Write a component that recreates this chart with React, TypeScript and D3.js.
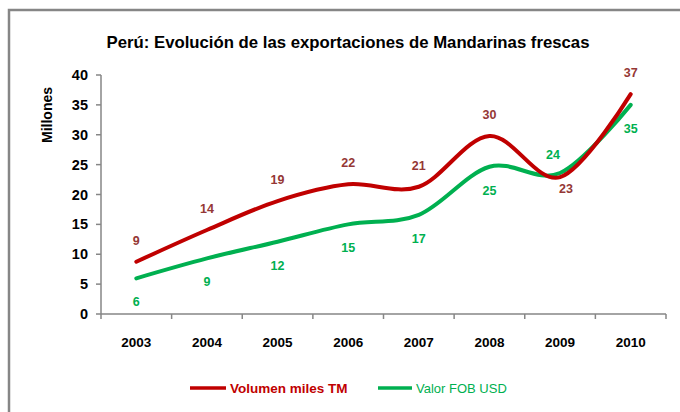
import { useMemo } from 'react'
import * as d3 from 'd3'

const width = 680
const height = 412

const years = ['2003', '2004', '2005', '2006', '2007', '2008', '2009', '2010']
const volumen = [8.75, 14.06, 18.9, 21.7, 21.3, 29.8, 22.9, 36.8]
const valorFob = [5.97, 9.3, 12.1, 15.0, 16.6, 24.65, 23.6, 35.0]
const yTicks = [0, 5, 10, 15, 20, 25, 30, 35, 40]

const titleText = 'Perú: Evolución de las exportaciones de Mandarinas frescas'
const yLabel = 'Millones'
const nameVolumen = 'Volumen miles TM'
const nameValor = 'Valor FOB USD'

const RED = '#C00000'
const RED_LABEL = '#953735'
const GREEN = '#00B050'
const AXIS = '#868686'
const FONT = '"Liberation Sans", Arial, sans-serif'

const x = d3.scaleBand<string>().domain(years).range([101, 666]).padding(0)
const y = d3.scaleLinear().domain([0, 40]).range([314, 75])
const cx = (yr: string) => (x(yr) ?? 0) + x.bandwidth() / 2

function App() {
  const line = useMemo(
    () =>
      d3
        .line<number>()
        .x((_, i) => cx(years[i]))
        .y(d => y(d))
        .curve(d3.curveCardinal.tension(0)),
    []
  )

  // higher series gets its label above, lower one below
  const labelPos = (i: number, mine: number[], other: number[]) => {
    const above = mine[i] >= other[i]
    const close = Math.abs(mine[i] - other[i]) < 1
    return {
      x: cx(years[i]) + (close ? (above ? -7 : 6) : 0),
      y: y(mine[i]) + (above ? (close ? -18 : -21) : close ? 12 : 24),
    }
  }

  return (
    <svg
      width={width}
      height={height}
      style={{ position: 'absolute', left: 0, top: 0, background: '#fff' }}
      fontFamily={FONT}
    >
      <rect x={0} y={0} width={width} height={height} fill="#fff" />
      {/* chart frame, runs off the right and bottom */}
      <path d="M9,420 L9,10 L690,10" fill="none" stroke={AXIS} strokeWidth={2.5} />

      <text x={348} y={42} textAnchor="middle" dominantBaseline="central" fontSize={16.5} fontWeight="bold" fill="#000" textLength={483} lengthAdjust="spacingAndGlyphs">
        {titleText}
      </text>

      <text transform={`translate(47,115) rotate(-90)`} textAnchor="middle" dominantBaseline="central" fontSize={14} fontWeight="bold" fill="#000">
        {yLabel}
      </text>

      {/* y axis */}
      <line x1={101} x2={101} y1={y(40)} y2={y(0)} stroke={AXIS} strokeWidth={1.5} />
      {yTicks.map(t => (
        <g key={t}>
          <line x1={96} x2={101} y1={y(t)} y2={y(t)} stroke={AXIS} strokeWidth={1.5} />
          <text x={88} y={y(t)} textAnchor="end" dominantBaseline="central" fontSize={14.5} fontWeight="bold" fill="#000">
            {t}
          </text>
        </g>
      ))}

      {/* x axis */}
      <line x1={101} x2={666} y1={y(0)} y2={y(0)} stroke={AXIS} strokeWidth={1.5} />
      {[...years.map(yr => x(yr) ?? 0), 666].map((p, i) => (
        <line key={i} x1={p} x2={p} y1={y(0)} y2={y(0) + 5} stroke={AXIS} strokeWidth={1.5} />
      ))}
      {years.map(yr => (
        <text key={yr} x={cx(yr)} y={342} textAnchor="middle" dominantBaseline="central" fontSize={13.5} fontWeight="bold" fill="#000">
          {yr}
        </text>
      ))}

      <path d={line(valorFob) ?? ''} fill="none" stroke={GREEN} strokeWidth={4} strokeLinecap="round" />
      <path d={line(volumen) ?? ''} fill="none" stroke={RED} strokeWidth={4} strokeLinecap="round" />

      {volumen.map((v, i) => {
        const p = labelPos(i, volumen, valorFob)
        return (
          <text key={'r' + i} x={p.x} y={p.y} textAnchor="middle" dominantBaseline="central" fontSize={12.5} fontWeight="bold" fill={RED_LABEL}>
            {Math.round(v)}
          </text>
        )
      })}
      {valorFob.map((v, i) => {
        const p = labelPos(i, valorFob, volumen)
        return (
          <text key={'g' + i} x={p.x} y={p.y} textAnchor="middle" dominantBaseline="central" fontSize={12.5} fontWeight="bold" fill={GREEN}>
            {Math.round(v)}
          </text>
        )
      })}

      {/* legend */}
      <line x1={190} x2={226} y1={388} y2={388} stroke={RED} strokeWidth={3.5} />
      <text x={230} y={388} dominantBaseline="central" fontSize={13.5} fontWeight="bold" fill={RED}>
        {nameVolumen}
      </text>
      <line x1={378} x2={412} y1={388} y2={388} stroke={GREEN} strokeWidth={3.5} />
      <text x={416} y={388} dominantBaseline="central" fontSize={13} fill={GREEN}>
        {nameValor}
      </text>
    </svg>
  )
}

export default App
